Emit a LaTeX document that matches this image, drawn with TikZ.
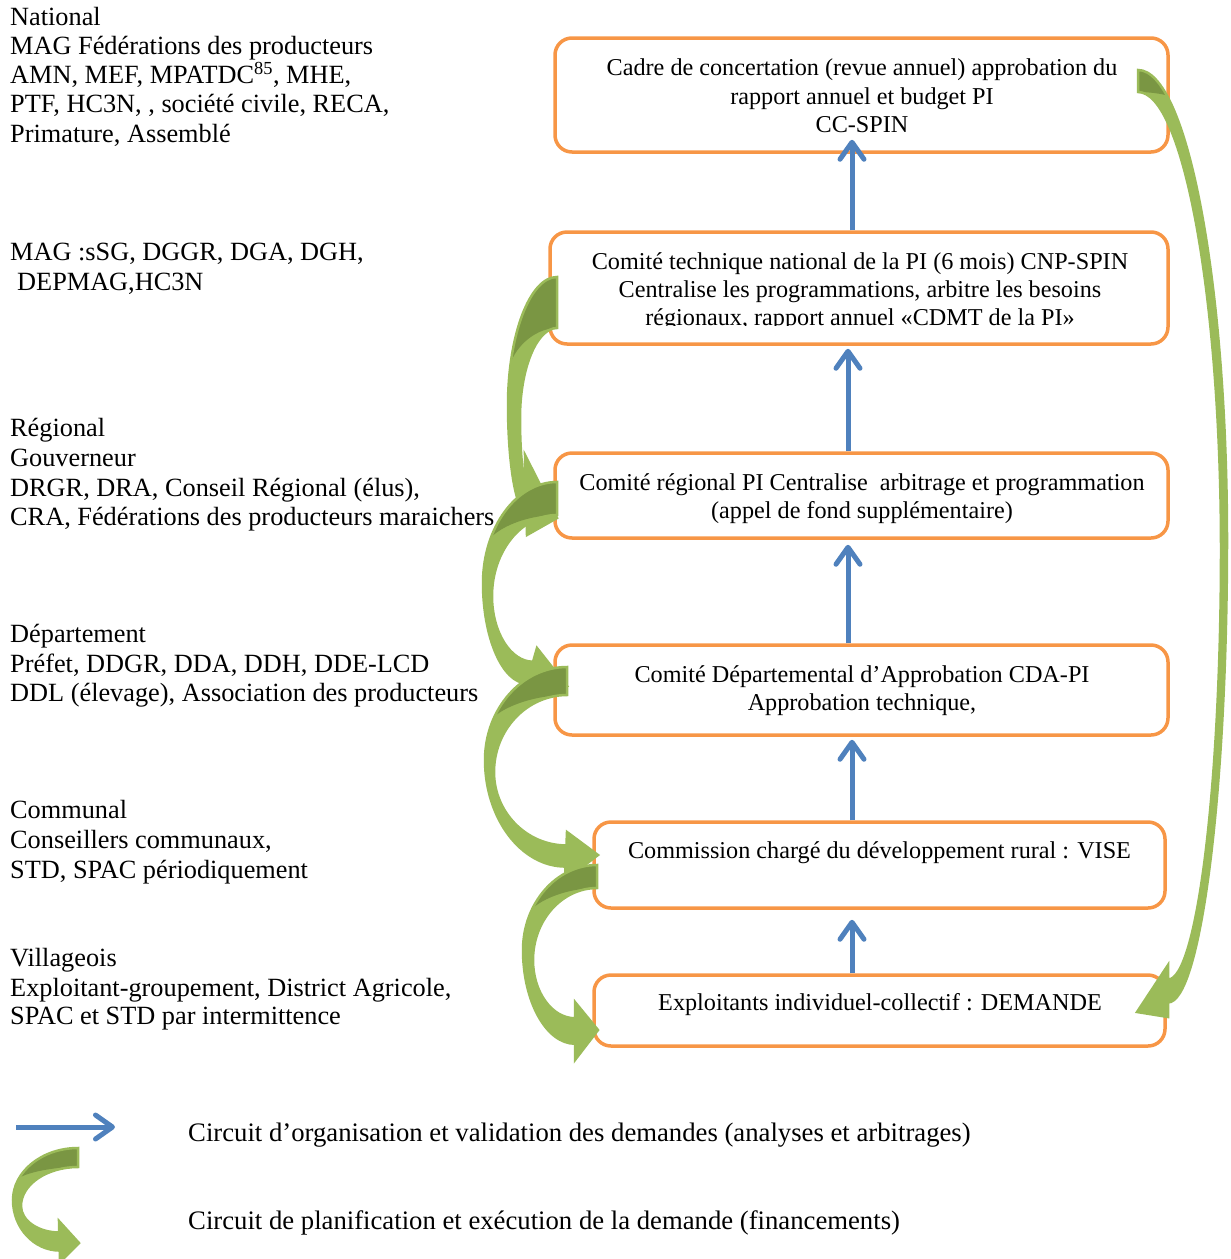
\documentclass[tikz,border=0pt]{standalone}
\usepackage{fontspec}
\setmainfont{Liberation Serif}
\usetikzlibrary{arrows.meta,calc}
\definecolor{orangeline}{HTML}{F79646}
\definecolor{bluearrow}{HTML}{4F81BD}
\definecolor{greenlight}{HTML}{9BBB59}
\definecolor{greendark}{HTML}{7A9643}
\tikzset{
  obox/.style={draw=orangeline, line width=3.5pt, rounded corners=17pt, inner sep=0pt},
  ltext/.style={anchor=base west, inner sep=0pt, font=\fontsize{26.3}{29.5}\selectfont},
  lgtext/.style={anchor=base west, inner sep=0pt, font=\fontsize{26.7}{29.5}\selectfont},
  btext/.style={anchor=base, inner sep=0pt, font=\fontsize{24.2}{28}\selectfont},
  barrow/.style={draw=bluearrow, line width=5pt, -{Straight Barb[length=17pt,width=24pt,round]}},
}
\newcommand{\greenarrow}[1]{%
  \coordinate (O) at ($(U)!0.72!(L)$);
  \coordinate (I) at ($(U)!0.28!(L)$);
  \def\gpath{(TT) .. controls ($(TT)!0.55!(TT -| ML)$) and ($(ML)!0.55!(ML |- TT)$) .. (ML)
     .. controls ($(ML)!0.55!(ML |- O)$) and ($(O)!0.55!(O -| ML)$) .. (O)
     -- (L) -- (T) -- (U) -- (I)
     .. controls ($(I)!0.55!(I -| MI)$) and ($(MI)!0.55!(MI |- I)$) .. (MI)
     .. controls ($(MI)!0.55!(MI |- TB)$) and ($(TB)!0.55!(TB -| MI)$) .. (TB) -- cycle}%
  \fill[greenlight] \gpath;
  \begin{scope}
    \clip \gpath;
    \coordinate (E) at ($(ML)!#1!(ML |- TT)$);
    \fill[greendark] (TT) -- (TT -| ML) -- (E) .. controls ($(E)!0.5!(E |- TB)$) and ($(TB)!0.5!(TB -| E)$) .. (TB) -- cycle;
  \end{scope}
  \draw[greenlight, line width=2.5pt, line join=miter] \gpath;
}
\begin{document}
\begin{tikzpicture}[x=1pt,y=-1pt]
\useasboundingbox (0,0) rectangle (1231,1259);

% left texts
\node[ltext] (n1) at (10,25) {National};
\node[ltext] (n2) at (10,54.3) {MAG Fédérations des producteurs};
\node[ltext] (n3) at (10,83.5) {AMN, MEF, MPATDC\textsuperscript{85}, MHE,};
\node[ltext] (n4) at (10,112.8) {PTF, HC3N, , société civile, RECA,};
\node[ltext] (n5) at (10,142) {Primature, Assemblé};
\node[ltext] (m1) at (10,260) {MAG :sSG, DGGR, DGA, DGH,};
\node[ltext] (m2) at (17,290) {DEPMAG,HC3N};
\node[ltext] (r1) at (10,436) {Régional};
\node[ltext] (r2) at (10,466) {Gouverneur};
\node[ltext] (r3) at (10,496) {DRGR, DRA, Conseil Régional (élus),};
\node[ltext] (r4) at (10,525) {CRA, Fédérations des producteurs maraichers};
\node[ltext] (d1) at (10,642) {Département};
\node[ltext] (d2) at (10,672) {Préfet, DDGR, DDA, DDH, DDE-LCD};
\node[ltext] (d3) at (10,701) {DDL (élevage), Association des producteurs};
\node[ltext] (c1) at (10,818) {Communal};
\node[ltext] (c2) at (10,848) {Conseillers communaux,};
\node[ltext] (c3) at (10,878) {STD, SPAC périodiquement};
\node[ltext] (v1) at (10,966) {Villageois};
\node[ltext] (v2) at (10,996) {Exploitant-groupement, District Agricole,};
\node[ltext] (v3) at (10,1024) {SPAC et STD par intermittence};

% boxes
\node[obox, minimum width=613pt, minimum height=114pt] (b1) at (861.5,95) {};
\node[obox, minimum width=618pt, minimum height=112pt] (b2) at (859,288) {};
\node[obox, minimum width=613pt, minimum height=85pt] (b3) at (861.5,495.5) {};
\node[obox, minimum width=613pt, minimum height=90pt] (b4) at (861.5,690) {};
\node[obox, minimum width=571pt, minimum height=86pt] (b5) at (879.5,865) {};
\node[obox, minimum width=571pt, minimum height=71pt] (b6) at (879.5,1010.5) {};

% box texts
\node[btext] (t1a) at (862,75) {Cadre de concertation (revue annuel) approbation du};
\node[btext] (t1b) at (862,104) {rapport annuel et budget PI};
\node[btext] (t1c) at (862,132) {CC-SPIN};
\node[btext] (t2a) at (860,269) {Comité technique national de la PI (6 mois) CNP-SPIN};
\node[btext] (t2b) at (860,297) {Centralise les programmations, arbitre les besoins};
\begin{scope}
  \clip (540,300) rectangle (1180,325);
  \node[btext] (t2c) at (860,325) {régionaux, rapport annuel «CDMT de la PI»};
\end{scope}
\node[btext] (t3a) at (862,490) {Comité régional PI Centralise\ \ arbitrage et programmation};
\node[btext] (t3b) at (862,518) {(appel de fond supplémentaire)};
\node[btext] (t4a) at (862,682) {Comité Départemental d’Approbation CDA-PI};
\node[btext] (t4b) at (862,710) {Approbation technique,};
\node[btext] (t5) at (879.5,858) {Commission chargé du développement rural : VISE};
\node[btext] (t6) at (880,1010) {Exploitants individuel-collectif : DEMANDE};

% blue arrows
\coordinate (colA) at (852,0);
\coordinate (colB) at (848,0);
\draw[barrow] (b2.north -| colA) -- ($(b1.south -| colA)+(0,-14)$);
\draw[barrow] (b3.north -| colB) -- ($(b2.south -| colB)+(0,3)$);
\draw[barrow] (b4.north -| colB) -- ($(b3.south -| colB)+(0,5)$);
\draw[barrow] (b5.north -| colA) -- ($(b4.south -| colA)+(0,3)$);
\draw[barrow] (b6.north -| colA) -- ($(b5.south -| colA)+(0,10)$);

% green curved arrows
\coordinate (TT) at (557,277); \coordinate (TB) at (557,328);
\coordinate (ML) at (508,405); \coordinate (MI) at (520,418);
\coordinate (U) at (525,455); \coordinate (L) at (527,535); \coordinate (T) at (557,518);
\greenarrow{0.22}

\coordinate (TT) at (557,482); \coordinate (TB) at (557,515);
\coordinate (ML) at (483,583); \coordinate (MI) at (492,596);
\coordinate (U) at (537,648); \coordinate (L) at (523,697); \coordinate (T) at (567,686);
\greenarrow{0.3}

\coordinate (TT) at (567,667); \coordinate (TB) at (567,695);
\coordinate (ML) at (485,760); \coordinate (MI) at (494,772);
\coordinate (U) at (567,832); \coordinate (L) at (565,880); \coordinate (T) at (598,855);
\greenarrow{0.3}

\coordinate (TT) at (597,865); \coordinate (TB) at (597,888);
\coordinate (ML) at (523,950); \coordinate (MI) at (533,960);
\coordinate (U) at (575,1002); \coordinate (L) at (575,1060); \coordinate (T) at (598,1030);
\greenarrow{0.3}

\coordinate (TT) at (1138,70); \coordinate (TB) at (1138,92);
\coordinate (ML) at (1227,540); \coordinate (MI) at (1221,550);
\coordinate (U) at (1168,965); \coordinate (L) at (1168,1017); \coordinate (T) at (1137,1012);
\greenarrow{0.85}

% legend
\coordinate (lgA) at (16,1127);
\coordinate (lgB) at (115,1127);
\draw[barrow] (lgA) -- (lgB);
\coordinate (TT) at (78,1148); \coordinate (TB) at (78,1167);
\coordinate (ML) at (13,1200); \coordinate (MI) at (21,1206);
\coordinate (U) at (59,1221); \coordinate (L) at (60,1262); \coordinate (T) at (79,1243);
\greenarrow{0.3}
\node[lgtext] (lg1) at (188,1141) {Circuit d’organisation et validation des demandes (analyses et arbitrages)};
\node[lgtext] (lg2) at (188,1229) {Circuit de planification et exécution de la demande (financements)};
\end{tikzpicture}
\end{document}
